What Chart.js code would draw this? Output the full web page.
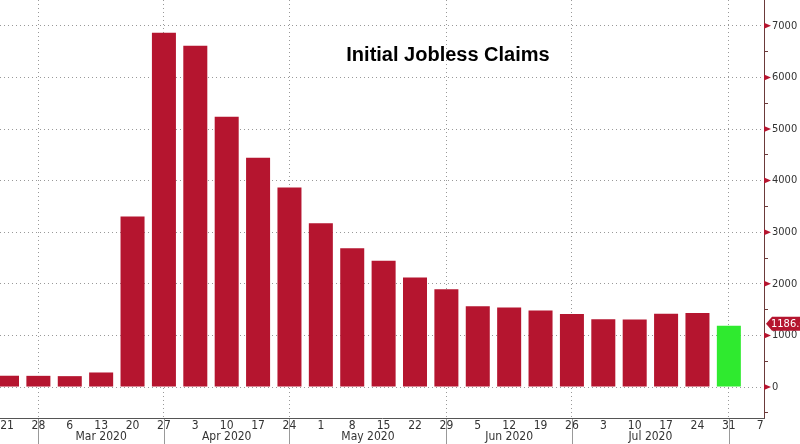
<!DOCTYPE html>
<html>
<head>
<meta charset="utf-8">
<script src="https://cdn.jsdelivr.net/npm/chart.js@4.4.0/dist/chart.umd.min.js"></script>
<style>
  html, body { margin: 0; padding: 0; background: #fff; }
  #wrap { width: 800px; height: 444px; }
</style>
</head>
<body>
<div id="wrap"><canvas id="claims"></canvas></div>
<script>
// week labels (day of month), one per weekly release
const weekLabels = ['21', '28', '6', '13', '20', '27', '3', '10', '17', '24', '1', '8', '15',
                    '22', '29', '5', '12', '19', '26', '3', '10', '17', '24', '31', '7'];
// initial claims, thousands
const claims = [219, 217, 211, 282, 3307, 6867, 6615, 5237, 4442, 3867, 3176, 2687, 2446,
                2123, 1897, 1566, 1540, 1482, 1413, 1314, 1307, 1422, 1434, 1186];
const lastValue = 1186.0;
// month names and the week indexes that close each month
const months = ['Mar 2020', 'Apr 2020', 'May 2020', 'Jun 2020', 'Jul 2020'];
const monthEnds = [1, 5, 9, 14, 18, 23];
// y ticks every 500, labelled every 1000
const yTicks = [];
for (let v = -500; v <= 7000; v += 500) yTicks.push(v);

const axisFont = '"Liberation Sans Narrow", "DejaVu Sans Condensed", sans-serif';
const barColors = claims.map((v, i) => i === claims.length - 1 ? '#2fea2f' : '#b5152f');

const extras = {
    id: 'extras',
    afterDraw(chart) {
        const c = chart.ctx;
        const x = chart.scales.x, y = chart.scales.y;
        const area = chart.chartArea;
        c.save();
        // month separators + names under the axis
        c.strokeStyle = '#999';
        c.lineWidth = 1;
        monthEnds.forEach(i => {
            const px = Math.round(x.getPixelForValue(i)) + 0.5;
            c.beginPath();
            c.moveTo(px, area.bottom + 1);
            c.lineTo(px, 444);
            c.stroke();
        });
        c.fillStyle = '#333';
        c.font = '12px ' + axisFont;
        c.textAlign = 'center';
        c.textBaseline = 'middle';
        months.forEach((m, k) => {
            const mid = (x.getPixelForValue(monthEnds[k]) + x.getPixelForValue(monthEnds[k + 1])) / 2;
            c.fillText(m, mid, 437);
        });
        // solid axis lines
        c.strokeStyle = '#6b3a3a';
        c.beginPath();
        c.moveTo(area.right + 0.5, 0);
        c.lineTo(area.right + 0.5, area.bottom + 0.5);
        c.stroke();
        c.strokeStyle = '#555';
        c.beginPath();
        c.moveTo(0, area.bottom + 0.5);
        c.lineTo(area.right + 1, area.bottom + 0.5);
        c.stroke();
        // red arrow marks on major y ticks
        c.fillStyle = '#b5152f';
        for (let v = 0; v <= 7000; v += 1000) {
            const py = y.getPixelForValue(v);
            c.beginPath();
            c.moveTo(area.right, py - 3);
            c.lineTo(area.right + 7, py);
            c.lineTo(area.right, py + 3);
            c.closePath();
            c.fill();
        }
        // last value tag
        const ty = y.getPixelForValue(lastValue) - 2;
        const tx = area.right + 2;
        c.fillStyle = '#b5152f';
        c.beginPath();
        c.moveTo(tx, ty);
        c.lineTo(tx + 6, ty - 7);
        c.lineTo(800, ty - 7);
        c.lineTo(800, ty + 7);
        c.lineTo(tx + 6, ty + 7);
        c.closePath();
        c.fill();
        c.fillStyle = '#fff';
        c.textAlign = 'left';
        c.font = '11px ' + axisFont;
        c.fillText(lastValue.toFixed(1), tx + 5, ty + 0.5);
        // title
        c.fillStyle = '#000';
        c.textAlign = 'center';
        c.font = 'bold 20px "Liberation Sans", Arial, sans-serif';
        c.fillText('Initial Jobless Claims', 448, 55);
        c.restore();
    }
};

new Chart(document.getElementById('claims'), {
    type: 'bar',
    data: {
        datasets: [{
            data: claims.map((v, i) => ({ x: i, y: v })),
            backgroundColor: barColors,
            borderWidth: 0,
            barPercentage: 0.765,
            categoryPercentage: 1
        }]
    },
    options: {
        responsive: true,
        maintainAspectRatio: false,
        animation: false,
        layout: { padding: 0 },
        plugins: { legend: { display: false }, tooltip: { enabled: false }, title: { display: false } },
        scales: {
            x: {
                type: 'linear',
                offset: false,
                min: -0.223,
                max: 24.12,
                afterBuildTicks: s => { s.ticks = weekLabels.map((l, i) => ({ value: i })); },
                afterFit: s => { s.height = 26; s.paddingLeft = 0; s.paddingRight = 0; },
                ticks: {
                    autoSkip: false,
                    maxRotation: 0,
                    padding: 1,
                    color: '#333',
                    font: { family: axisFont, size: 12 },
                    callback: v => weekLabels[v]
                },
                grid: {
                    offset: false,
                    drawTicks: false,
                    color: ctx => ctx.tick && monthEnds.includes(ctx.tick.value) ? '#999' : 'rgba(0,0,0,0)'
                },
                border: { display: false, dash: [1, 3] }
            },
            y: {
                position: 'right',
                min: -600,
                max: 7500,
                afterBuildTicks: s => { s.ticks = yTicks.map(v => ({ value: v })); },
                afterFit: s => { s.width = 36; s.paddingTop = 0; s.paddingBottom = 0; },
                ticks: {
                    padding: 4,
                    color: '#333',
                    font: { family: axisFont, size: 11 },
                    callback: v => v % 1000 === 0 ? String(v) : ''
                },
                grid: {
                    drawTicks: true,
                    tickLength: 4,
                    tickColor: ctx => ctx.tick && ctx.tick.value % 1000 !== 0 ? '#6b3a3a' : 'rgba(0,0,0,0)',
                    color: ctx => ctx.tick && ctx.tick.value % 1000 === 0 ? '#999' : 'rgba(0,0,0,0)'
                },
                border: { display: false, dash: [1, 3] }
            }
        }
    },
    plugins: [extras]
});
</script>
</body>
</html>
